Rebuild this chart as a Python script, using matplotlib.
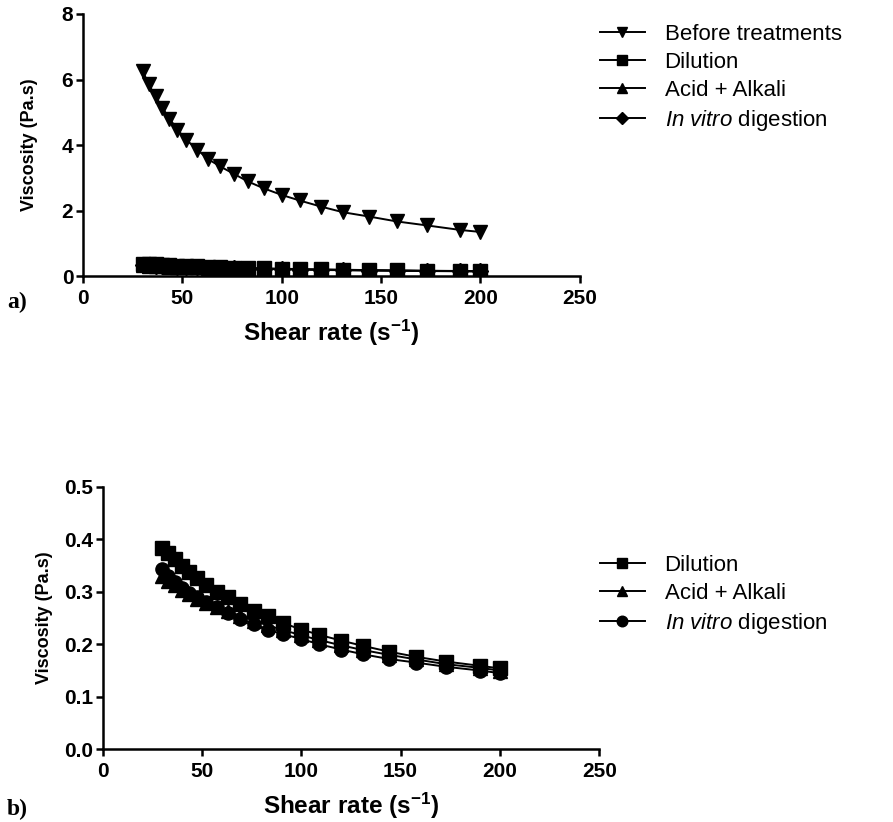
import matplotlib
matplotlib.use("Agg")
import matplotlib.pyplot as plt

plt.rcParams["font.family"] = ["Liberation Sans", "DejaVu Sans"]
plt.rcParams["mathtext.fontset"] = "custom"
plt.rcParams["mathtext.rm"] = "Liberation Sans"
plt.rcParams["mathtext.it"] = "Liberation Sans:italic"
plt.rcParams["mathtext.bf"] = "Liberation Sans:bold"

# shear rate (s^-1)
shear_rate = [30, 33, 36.5, 40, 43.5, 47.5, 52, 57.5, 63, 69, 76, 83, 91, 100,
              109, 120, 131, 144, 158, 173, 190, 200]

# viscosity (Pa.s)
before_treatments = [6.27, 5.85, 5.49, 5.13, 4.81, 4.47, 4.16, 3.86, 3.57, 3.35, 3.12,
                     2.89, 2.68, 2.48, 2.31, 2.12, 1.95, 1.82, 1.67, 1.55, 1.41, 1.35]
dilution = [0.383, 0.373, 0.362, 0.349, 0.338, 0.326, 0.313, 0.300, 0.289, 0.276, 0.264,
            0.253, 0.240, 0.228, 0.218, 0.207, 0.197, 0.186, 0.176, 0.167, 0.159, 0.154]
acid_alkali = [0.330, 0.320, 0.312, 0.303, 0.295, 0.287, 0.279, 0.271, 0.263, 0.254, 0.245,
               0.236, 0.227, 0.217, 0.208, 0.198, 0.189, 0.180, 0.171, 0.162, 0.155, 0.150]
in_vitro = [0.343, 0.330, 0.318, 0.308, 0.298, 0.289, 0.280, 0.270, 0.259, 0.249, 0.239,
            0.228, 0.219, 0.210, 0.200, 0.190, 0.181, 0.172, 0.165, 0.157, 0.150, 0.145]

x_ticks = [0, 50, 100, 150, 200, 250]
y_ticks_a = [0, 2, 4, 6, 8]
y_ticks_b = [0.0, 0.1, 0.2, 0.3, 0.4, 0.5]

lbl_before = "Before treatments"
lbl_dil = "Dilution"
lbl_acid = "Acid + Alkali"
lbl_vitro = r"$\mathit{In\ vitro}$ digestion"
xlabel = r"Shear rate (s$^{\mathbf{-1}}$)"
ylabel = "Viscosity (Pa.s)"


def style_axes(ax, yticks, ylim, yfmt, ypad):
    for side in ["top", "right"]:
        ax.spines[side].set_visible(False)
    for side in ["left", "bottom"]:
        ax.spines[side].set_linewidth(1.8)
    ax.set_xlim(0, 250)
    ax.set_ylim(*ylim)
    ax.set_xticks(x_ticks)
    ax.set_yticks(yticks)
    ax.set_yticklabels([yfmt.format(v) for v in yticks])
    ax.tick_params(direction="out", length=5, width=1.8, labelsize=15, pad=2)
    ax.tick_params(axis="x", pad=4)
    for t in ax.get_xticklabels() + ax.get_yticklabels():
        t.set_fontweight("bold")
    ax.set_xlabel(xlabel, fontsize=17.5, fontweight="bold", labelpad=7)
    ax.set_ylabel(ylabel, fontsize=13, fontweight="bold", labelpad=ypad)


fig = plt.figure(figsize=(8.93, 8.22), dpi=100)

kw = dict(color="black", linewidth=1.4, markersize=9.5)
leg_kw = dict(frameon=False, fontsize=16, handlelength=2.0, handletextpad=0.9,
              labelspacing=0.32, borderaxespad=0, borderpad=0, markerscale=0.8)

# a)
ax1 = fig.add_axes([0.093, 0.664, 0.556, 0.319])
ax1.plot(shear_rate, before_treatments, marker="v", label=lbl_before, **kw)
ax1.plot(shear_rate, dilution, marker="s", label=lbl_dil, **kw)
ax1.plot(shear_rate, acid_alkali, marker="^", label=lbl_acid, **kw)
ax1.plot(shear_rate, in_vitro, marker="D", label=lbl_vitro, color="black",
         linewidth=1.4, markersize=8)
style_axes(ax1, y_ticks_a, (0, 8), "{:g}", 17)
ax1.legend(loc="upper left", bbox_to_anchor=(0.672, 0.971), bbox_transform=fig.transFigure,
           **leg_kw)
fig.text(0.008, 0.625, "a)", fontsize=17, fontweight="bold", family="Liberation Serif")

# b)
ax2 = fig.add_axes([0.115, 0.0884, 0.556, 0.3196])
ax2.plot(shear_rate, dilution, marker="s", label=lbl_dil, **kw)
ax2.plot(shear_rate, acid_alkali, marker="^", label=lbl_acid, **kw)
ax2.plot(shear_rate, in_vitro, marker="o", label=lbl_vitro, **kw)
style_axes(ax2, y_ticks_b, (0, 0.5), "{:.1f}", 8)
ax2.legend(loc="upper left", bbox_to_anchor=(0.672, 0.325), bbox_transform=fig.transFigure,
           **leg_kw)
fig.text(0.008, 0.008, "b)", fontsize=17, fontweight="bold", family="Liberation Serif")

fig.savefig("out.png", dpi=100)
